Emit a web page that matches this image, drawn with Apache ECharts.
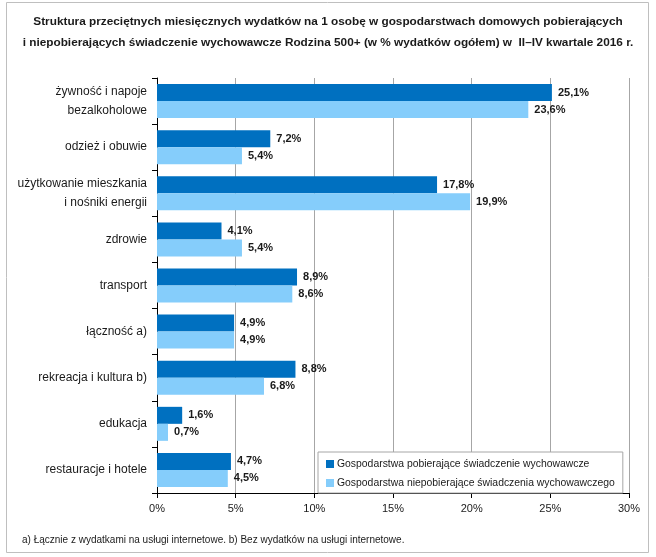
<!DOCTYPE html>
<html><head><meta charset="utf-8">
<script src="https://cdn.jsdelivr.net/npm/echarts@6/dist/echarts.min.js"></script>
<style>html,body{margin:0;padding:0;background:#fff}#c{width:656px;height:557px}</style>
</head><body><div id="c"></div>
<script>
const categories = ['żywność i napoje\nbezalkoholowe', 'odzież i obuwie', 'użytkowanie mieszkania\ni nośniki energii', 'zdrowie', 'transport', 'łączność a)', 'rekreacja i kultura b)', 'edukacja', 'restauracje i hotele'];
const seriesNames = ['Gospodarstwa pobierające świadczenie wychowawcze', 'Gospodarstwa niepobierające świadczenia wychowawczego'];
const withBenefit = [25.1, 7.2, 17.8, 4.1, 8.9, 4.9, 8.8, 1.6, 4.7];
const withoutBenefit = [23.6, 5.4, 19.9, 5.4, 8.6, 4.9, 6.8, 0.7, 4.5];
const xTicks = [0, 5, 10, 15, 20, 25, 30];
const titleText = 'Struktura przeciętnych miesięcznych wydatków na 1 osobę w gospodarstwach domowych pobierających\ni niepobierających świadczenie wychowawcze Rodzina 500+ (w % wydatków ogółem) w  II–IV kwartale 2016 r.';
const footnote = 'a) Łącznie z wydatkami na usługi internetowe. b) Bez wydatków na usługi internetowe.';

const FONT = 'Liberation Sans';
const chart = echarts.init(document.getElementById('c'), null, {renderer: 'canvas'});
const lbl = {show: true, position: 'right', distance: 6, color: '#1a1a1a', fontFamily: FONT, fontWeight: 'bold', fontSize: 11,
  formatter: p => p.value.toFixed(1).replace('.', ',') + '%'};
chart.setOption({
  animation: false,
  backgroundColor: '#fff',
  title: {text: titleText, left: 'center', top: 6,
    textStyle: {fontFamily: FONT, fontWeight: 'bold', fontSize: 11.8, lineHeight: 21, color: '#1a1a1a'}},
  graphic: [
    {type: 'rect', shape: {x: 6.5, y: 2.5, width: 642, height: 550}, style: {fill: 'none', stroke: '#bfbfbf', lineWidth: 1}, silent: true},
    {type: 'text', left: 22, top: 535, style: {text: footnote, fontFamily: FONT, fontSize: 10, fill: '#1a1a1a'}}
  ],
  legend: {orient: 'vertical', left: 318, top: 452, backgroundColor: '#fff', borderColor: '#a6a6a6', borderWidth: 1,
    padding: [7, 8, 5, 8], itemWidth: 8, itemHeight: 8, itemGap: 9, icon: 'rect',
    textStyle: {fontFamily: FONT, fontSize: 10.4, color: '#1a1a1a', padding: [0, 0, 0, -2]},
    data: seriesNames},
  grid: {left: 157, right: 27, top: 78, bottom: 64, containLabel: false},
  xAxis: {type: 'value', min: 0, max: 30, interval: 5,
    axisLine: {show: true, lineStyle: {color: '#000'}},
    axisTick: {show: true, length: 5, lineStyle: {color: '#000'}},
    splitLine: {show: true, lineStyle: {color: '#a6a6a6'}},
    axisLabel: {formatter: v => xTicks.includes(v) ? v + '%' : '', fontFamily: FONT, fontSize: 11, color: '#1a1a1a', margin: 10}},
  yAxis: {type: 'category', data: categories, inverse: true,
    axisLine: {show: true, lineStyle: {color: '#000'}},
    axisTick: {show: true, length: 5, lineStyle: {color: '#000'}},
    axisLabel: {fontFamily: FONT, fontSize: 12, color: '#1a1a1a', margin: 10, lineHeight: 19, align: 'right'}},
  series: [
    {name: seriesNames[0], type: 'bar', data: withBenefit, barWidth: 17, barGap: '0%', itemStyle: {color: '#0070C0'}, label: lbl},
    {name: seriesNames[1], type: 'bar', data: withoutBenefit, barWidth: 17, barGap: '0%', itemStyle: {color: '#85CDFB'}, label: lbl}
  ]
});
</script></body></html>
